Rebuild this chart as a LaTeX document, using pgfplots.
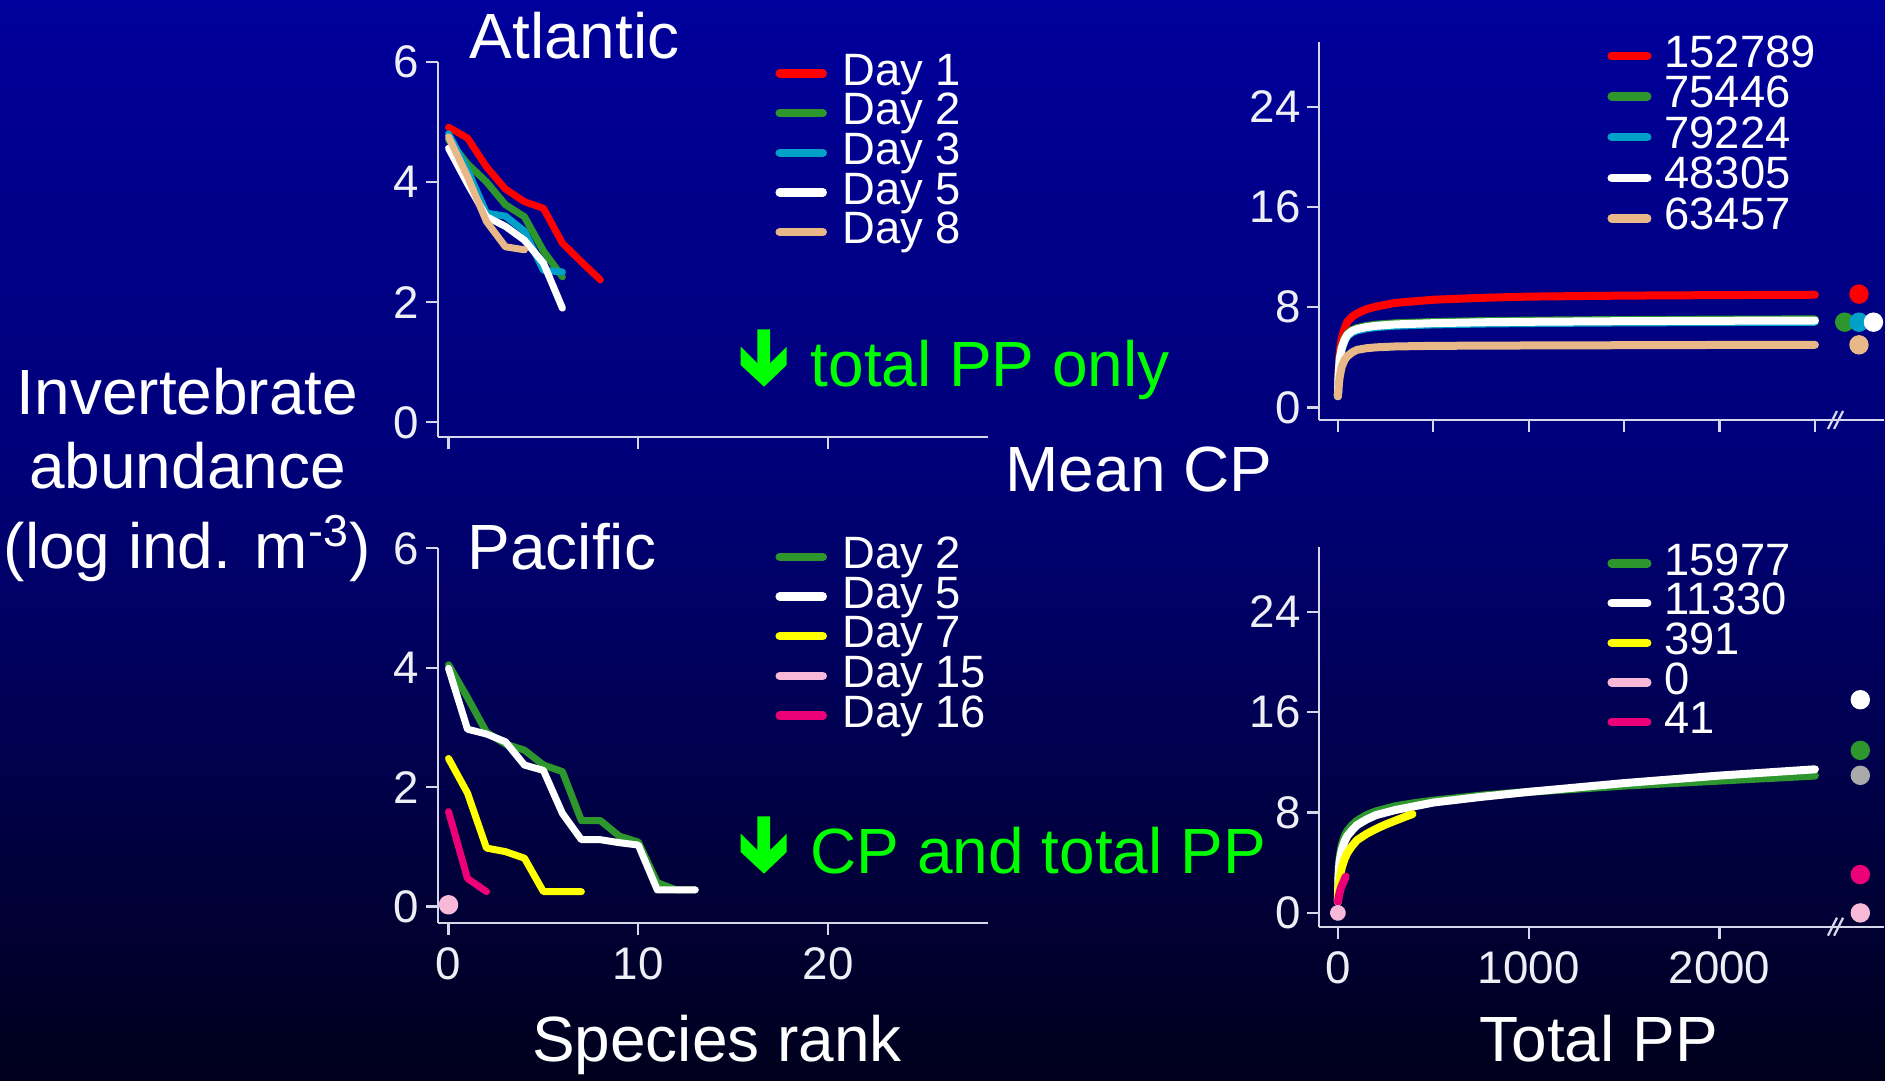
\documentclass[border=0pt]{standalone}
\usepackage{fontspec}
\setmainfont{Liberation Sans}
\usepackage{pgfplots}
\pgfplotsset{compat=1.18}

% background gradient, dark at the bottom
\definecolor{bg0}{RGB}{0,0,28}
\definecolor{bg1}{RGB}{0,0,62}
\definecolor{bg2}{RGB}{0,0,95}
\definecolor{bg3}{RGB}{0,0,122}
\definecolor{bg4}{RGB}{0,0,138}
\definecolor{bg5}{RGB}{0,0,156}
\pgfdeclareverticalshading{bgshade}{100bp}{color(0bp)=(bg0); color(25bp)=(bg0); color(35.7bp)=(bg1); color(45bp)=(bg2); color(54.2bp)=(bg3); color(65.7bp)=(bg4); color(75bp)=(bg5); color(100bp)=(bg5)}

% series colours
\definecolor{cred}{RGB}{255,0,0}
\definecolor{cgreen}{RGB}{45,150,45}
\definecolor{ccyan}{RGB}{0,160,200}
\definecolor{ctan}{RGB}{232,184,136}
\definecolor{cyel}{RGB}{255,255,0}
\definecolor{cpink}{RGB}{248,184,216}
\definecolor{cmag}{RGB}{236,0,120}
\definecolor{cgrey}{RGB}{170,170,170}
\definecolor{axcol}{RGB}{215,215,235}
\definecolor{tickcol}{RGB}{238,238,245}
\definecolor{txtgreen}{RGB}{0,255,0}

\newcommand\bigfont{\fontsize{18.2pt}{21pt}\selectfont}
\newcommand\tickfont{\fontsize{13pt}{15pt}\selectfont}
\newcommand\legfont{\fontsize{12.9pt}{15pt}\selectfont}

\pgfplotsset{
  panel/.style={
    scale only axis, anchor=south west, clip=false,
    axis lines=left,
    axis line style={-, draw=axcol, line width=0.22mm},
    tick align=outside, major tick length=1.2mm,
    tick style={draw=axcol, line width=0.22mm},
    tick label style={font=\tickfont, text=tickcol},
    /pgf/number format/assume math mode=true,
    yticklabel style={inner xsep=0.6mm},
    legend cell align=left,
    every axis plot/.append style={line cap=round, line join=round},
  },
  rankleg/.style={
    legend style={anchor=north west, draw=none, fill=none, inner sep=0pt, outer sep=0pt,
      row sep=0pt, column sep=1.55mm, font=\legfont, text=white,
      nodes={inner sep=0pt, outer sep=0pt, text height=3.15mm, text depth=0.82mm}},
    legend image code/.code={\draw[##1, line width=0.85mm, line cap=round] (0mm,0mm) -- (4.3mm,0mm);},
  },
  ppleg/.style={
    legend style={anchor=north west, draw=none, fill=none, inner sep=0pt, outer sep=0pt,
      row sep=0pt, column sep=1.3mm, font=\legfont, text=white,
      nodes={inner sep=0pt, outer sep=0pt, text height=3.15mm, text depth=0.82mm}},
    legend image code/.code={\draw[##1, line width=0.85mm, line cap=round] (0mm,0mm) -- (3.55mm,0mm);},
  },
  rankline/.style={line width=0.7mm},
  ppline/.style={line width=0.8mm},
}

\begin{document}
\begin{tikzpicture}[x=0.1mm,y=0.1mm]
\shade[shading=bgshade] (0,0) rectangle (1885,1081);

% ---------- Atlantic: rank-abundance ----------
\begin{axis}[panel, rankleg, at={(43.81mm,64.37mm)}, width=55.04mm, height=37.56mm,
  xmin=-0.55, xmax=28.45, ymin=-0.25, ymax=6,
  xtick={0,10,20}, xticklabels={}, ytick={0,2,4,6},
  legend style={at={(0.613,1.0218)}}]
\addplot[rankline, cred] coordinates {(0,4.91)(1,4.73)(2,4.25)(3,3.88)(4,3.67)(5,3.56)(6,2.98)(7,2.67)(8,2.37)};
\addplot[rankline, cgreen] coordinates {(0,4.70)(1,4.30)(2,4.00)(3,3.62)(4,3.42)(5,2.85)(6,2.42)};
\addplot[rankline, ccyan] coordinates {(0,4.80)(1,4.20)(2,3.48)(3,3.43)(4,3.18)(5,2.53)(6,2.50)};
\addplot[rankline, white] coordinates {(0,4.56)(1,3.97)(2,3.42)(3,3.26)(4,3.03)(5,2.65)(6,1.90)};
\addplot[rankline, ctan] coordinates {(0,4.75)(1,4.09)(2,3.34)(3,2.92)(4,2.87)};
\legend{Day 1, Day 2, Day 3, Day 5, Day 8}
\end{axis}

% ---------- Pacific: rank-abundance ----------
\begin{axis}[panel, rankleg, at={(43.81mm,15.83mm)}, width=55.04mm, height=37.44mm,
  xmin=-0.55, xmax=28.45, ymin=-0.27, ymax=6,
  xtick={0,10,20}, ytick={0,2,4,6},
  legend style={at={(0.613,1.0304)}}]
\addplot[rankline, cgreen] coordinates {(0,4.05)(1,3.50)(2,2.92)(3,2.72)(4,2.62)(5,2.37)(6,2.26)(7,1.44)(8,1.44)(9,1.18)(10,1.08)(11,0.40)(12,0.28)(13,0.28)};
\addplot[rankline, white] coordinates {(0,3.99)(1,2.97)(2,2.89)(3,2.76)(4,2.37)(5,2.28)(6,1.56)(7,1.12)(8,1.12)(9,1.07)(10,1.03)(11,0.28)(12,0.28)(13,0.28)};
\addplot[rankline, cyel] coordinates {(0,2.48)(1,1.90)(2,0.98)(3,0.92)(4,0.81)(5,0.25)(6,0.25)(7,0.25)};
\addplot[rankline, cpink, mark=*, mark size=0.62mm, mark options={draw=none}] coordinates {(0,0.03)};
\addplot[rankline, cmag] coordinates {(0,1.59)(1,0.47)(2,0.25)};
\legend{Day 2, Day 5, Day 7, Day 15, Day 16}
\end{axis}

% ---------- Atlantic: mean CP against total PP ----------
\begin{axis}[panel, ppleg, at={(131.94mm,66.10mm)}, width=56.44mm, height=37.83mm,
  xmin=-97, xmax=2861, ymin=-1, ymax=29.2,
  xtick={0,500,1000,1500,2000,2500}, xticklabels={}, ytick={0,8,16,24},
  legend style={at={(0.5104,1.0159)}, nodes={text depth=0.91mm}}]
\addplot[ppline, cred] coordinates {(0,1.0)(3,2.6)(6,3.6)(10,4.5)(20,5.5)(35,6.3)(50,6.85)(75,7.25)(100,7.5)(150,7.85)(200,8.05)(300,8.35)(500,8.6)(750,8.75)(1000,8.85)(1500,8.93)(2000,8.97)(2500,9.0)};
\addplot[ppline, cgreen] coordinates {(0,0.9)(3,2.35)(6,3.15)(10,3.95)(20,4.82)(35,5.48)(50,5.88)(75,6.19)(100,6.34)(150,6.51)(200,6.61)(300,6.72)(500,6.82)(750,6.89)(1000,6.93)(1500,6.98)(2000,7.01)(2500,7.03)};
\addplot[ppline, ccyan] coordinates {(0,0.9)(3,2.2)(6,3.0)(10,3.8)(20,4.65)(35,5.3)(50,5.7)(75,6.0)(100,6.15)(150,6.32)(200,6.42)(300,6.53)(500,6.63)(750,6.7)(1000,6.74)(1500,6.79)(2000,6.82)(2500,6.84)};
\addplot[ppline, white] coordinates {(0,0.9)(3,2.3)(6,3.1)(10,3.9)(20,4.75)(35,5.4)(50,5.8)(75,6.1)(100,6.25)(150,6.42)(200,6.52)(300,6.63)(500,6.73)(750,6.8)(1000,6.84)(1500,6.89)(2000,6.92)(2500,6.94)};
\addplot[ppline, ctan] coordinates {(0,0.9)(3,1.5)(6,2.0)(10,2.5)(20,3.25)(35,3.8)(50,4.1)(75,4.4)(100,4.6)(150,4.73)(200,4.8)(300,4.87)(500,4.92)(1000,4.95)(1500,4.97)(2000,4.99)(2500,5.0)};
% values beyond the axis break
\addplot[forget plot, only marks, mark=*, mark size=0.9mm, cred] coordinates {(2731,9.05)};
\addplot[forget plot, only marks, mark=*, mark size=0.9mm, cgreen] coordinates {(2656,6.81)};
\addplot[forget plot, only marks, mark=*, mark size=0.9mm, ccyan] coordinates {(2731,6.81)};
\addplot[forget plot, only marks, mark=*, mark size=0.9mm, white] coordinates {(2807,6.81)};
\addplot[forget plot, only marks, mark=*, mark size=0.9mm, ctan] coordinates {(2731,5.0)};
\draw[axcol, line width=0.22mm] (axis cs:2592,-1) ++(-0.45mm,-0.9mm) -- ++(0.9mm,1.8mm);
\draw[axcol, line width=0.22mm] (axis cs:2624,-1) ++(-0.45mm,-0.9mm) -- ++(0.9mm,1.8mm);
\legend{152789, 75446, 79224, 48305, 63457}
\end{axis}

% ---------- Pacific: mean CP against total PP ----------
\begin{axis}[panel, ppleg, at={(131.94mm,15.43mm)}, width=56.44mm, height=38.0mm,
  xmin=-97, xmax=2861, ymin=-1.1, ymax=29.2,
  xtick={0,1000,2000}, xticklabels={0,1000,2000}, ytick={0,8,16,24},
  legend style={at={(0.5104,1.0084)}}]
\addplot[ppline, cgreen] coordinates {(0,0.9)(3,3.0)(6,3.9)(10,4.5)(20,5.4)(35,6.1)(50,6.55)(75,7.0)(100,7.35)(150,7.8)(200,8.1)(300,8.5)(400,8.75)(500,8.95)(750,9.35)(1000,9.65)(1500,10.15)(2000,10.55)(2500,10.95)};
\addplot[ppline, white] coordinates {(0,0.9)(3,2.8)(6,3.6)(10,4.2)(20,5.0)(35,5.7)(50,6.15)(75,6.6)(100,7.0)(150,7.45)(200,7.8)(300,8.2)(400,8.5)(500,8.8)(750,9.25)(1000,9.65)(1500,10.35)(2000,10.95)(2500,11.45)};
\addplot[ppline, cyel] coordinates {(0,0.9)(3,1.8)(6,2.3)(10,2.8)(20,3.6)(35,4.3)(50,4.8)(75,5.35)(100,5.8)(150,6.3)(200,6.7)(250,7.05)(300,7.35)(350,7.65)(391,7.88)};
\addplot[ppline, cpink, mark=*, mark size=0.4mm, mark options={draw=none}] coordinates {(0,0)};
\addplot[ppline, cmag] coordinates {(0,0.9)(5,1.35)(10,1.65)(15,1.95)(20,2.15)(30,2.5)(41,2.9)};
% values beyond the axis break
\addplot[forget plot, only marks, mark=*, mark size=0.9mm, white] coordinates {(2738,17.0)};
\addplot[forget plot, only marks, mark=*, mark size=0.9mm, cgreen] coordinates {(2738,12.96)};
\addplot[forget plot, only marks, mark=*, mark size=0.9mm, cgrey] coordinates {(2738,10.97)};
\addplot[forget plot, only marks, mark=*, mark size=0.9mm, cmag] coordinates {(2738,3.06)};
\addplot[forget plot, only marks, mark=*, mark size=0.9mm, cpink] coordinates {(2738,0)};
\draw[axcol, line width=0.22mm] (axis cs:2592,-1.1) ++(-0.45mm,-0.9mm) -- ++(0.9mm,1.8mm);
\draw[axcol, line width=0.22mm] (axis cs:2624,-1.1) ++(-0.45mm,-0.9mm) -- ++(0.9mm,1.8mm);
\legend{15977, 11330, 391, 0, 41}
\end{axis}

% ---------- titles and labels ----------
\node[anchor=base west, inner sep=0pt, text=white, font=\bigfont] at (469,1022.7) {Atlantic};
\node[anchor=base west, inner sep=0pt, text=white, font=\bigfont] at (467,511) {Pacific};
\node[anchor=base, inner sep=0pt, text=white, font=\bigfont] at (187.5,666) {Invertebrate};
\node[anchor=base, inner sep=0pt, text=white, font=\bigfont] at (187.5,592.7) {abundance};
\node[anchor=base, inner sep=0pt, text=white, font=\bigfont] at (187.5,512.7) {(log ind. m\textsuperscript{-3})};
\node[anchor=base, inner sep=0pt, text=white, font=\bigfont] at (1139,589.3) {Mean CP};
\node[anchor=base, inner sep=0pt, text=white, font=\bigfont] at (717,19.3) {Species rank};
\node[anchor=base, inner sep=0pt, text=white, font=\bigfont] at (1598.7,19.3) {Total PP};

% ---------- green annotations ----------
\fill[txtgreen] (757.3,751.7) -- (770,751.7) -- (770,717.7) -- (786.7,734.3) -- (786.7,716) -- (764,694.3) -- (740.7,716) -- (740.7,734.3) -- (757.3,717.7) -- cycle;
\node[anchor=base west, inner sep=0pt, text=txtgreen, font=\bigfont] at (810,694.3) {total PP only};
\begin{scope}[yshift=-487*0.1mm]
\fill[txtgreen] (757.3,751.7) -- (770,751.7) -- (770,717.7) -- (786.7,734.3) -- (786.7,716) -- (764,694.3) -- (740.7,716) -- (740.7,734.3) -- (757.3,717.7) -- cycle;
\end{scope}
\node[anchor=base west, inner sep=0pt, text=txtgreen, font=\bigfont] at (810,207.7) {CP and total PP};

\pgfresetboundingbox
\useasboundingbox (0,0) rectangle (1885,1081);
\end{tikzpicture}
\end{document}
